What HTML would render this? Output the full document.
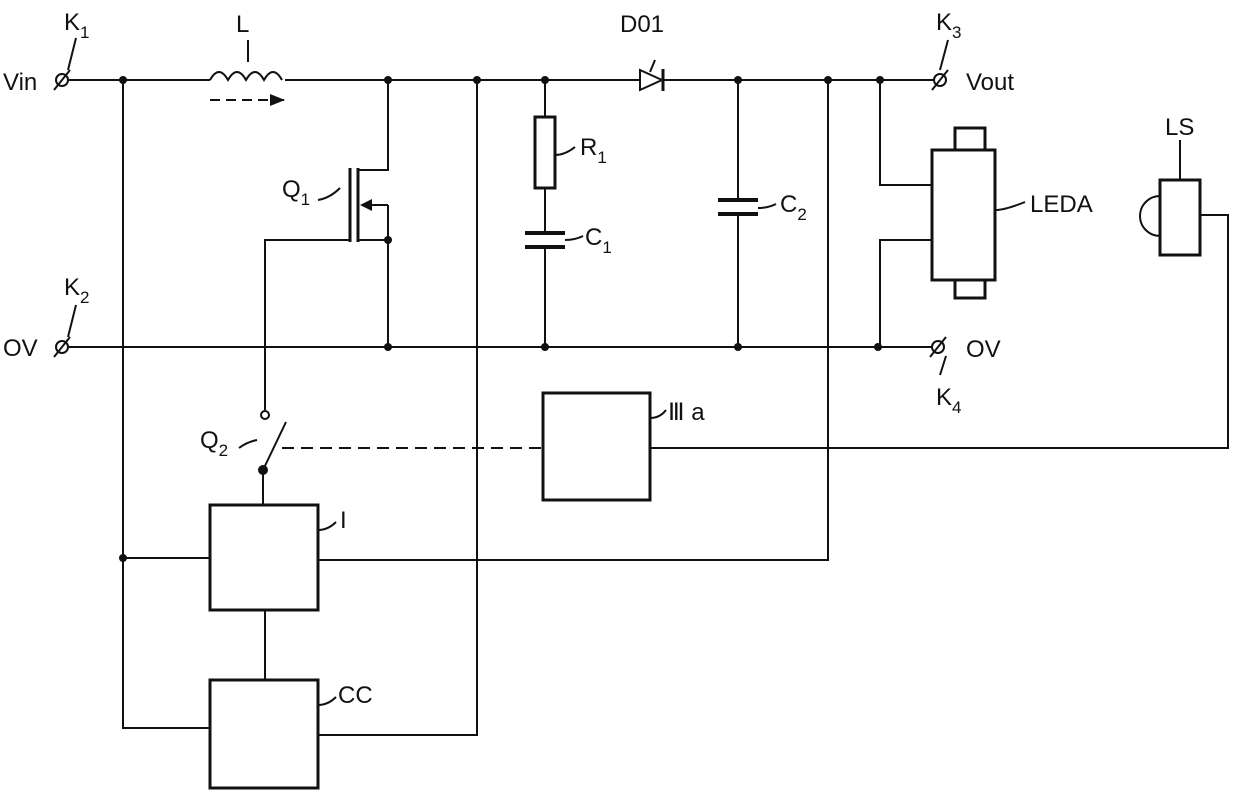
<!DOCTYPE html>
<html><head><meta charset="utf-8"><style>
html,body{margin:0;padding:0;background:#fff;}
svg{display:block}
text{font-family:"Liberation Sans",sans-serif;fill:#111;}
</style></head><body>
<svg width="1240" height="795" viewBox="0 0 1240 795" xmlns="http://www.w3.org/2000/svg">
<g stroke="#111" stroke-width="2" fill="none">
<!-- top rail -->
<path d="M68 80 H210 M285 80 H640 M664 80 H934"/>
<!-- inductor -->
<path d="M210 80 q9 -16 18 0 q9 -16 18 0 q9 -16 18 0 q9 -16 18 0"/>
<path d="M210 100 H285" stroke-dasharray="10,6"/>
<!-- bottom rail -->
<path d="M68 347 H932"/>
<!-- left vertical loop -->
<path d="M123 80 V728 H210 M123 558 H210"/>
<path d="M477 80 V735 H318"/>
<path d="M828 80 V560 H318"/>
<!-- MOSFET -->
<path d="M388 80 V170 H358 M358 240 H388 V347 M388 205 H370 M388 205 V240"/>
<path d="M358 168 V242" stroke-width="3"/>
<path d="M350 168 V242" stroke-width="3"/>
<path d="M350 240 H265 V410"/>
<!-- switch -->
<circle cx="265" cy="415" r="4" fill="#fff"/>
<path d="M263 470 L286 422"/>
<path d="M263 470 V505"/>
<path d="M282 448 H543" stroke-dasharray="12,7"/>
<!-- boxes -->
<rect x="210" y="505" width="108" height="105" stroke-width="3"/>
<rect x="210" y="680" width="108" height="108" stroke-width="3"/>
<path d="M265 610 V680"/>
<rect x="543" y="393" width="107" height="107" stroke-width="3"/>
<path d="M650 448 H1228 V215 H1200"/>
<rect x="1160" y="180" width="40" height="75" stroke-width="3"/>
<path d="M1160 196 A20 20 0 0 0 1160 236"/>
<!-- R1 C1 -->
<path d="M545 80 V117 M545 188 V233 M545 247 V347"/>
<rect x="535" y="117" width="20" height="71" stroke-width="3"/>
<path d="M525 233 H565 M525 247 H565" stroke-width="4"/>
<!-- C2 -->
<path d="M738 80 V200 M738 214 V347"/>
<path d="M718 200 H758 M718 214 H758" stroke-width="4"/>
<!-- diode -->
<path d="M640 70 L662 80 L640 90 Z" fill="#fff"/>
<path d="M663 69 V91" stroke-width="3"/>
<!-- LEDA -->
<path d="M880 80 V185 H932 M880 347 V240 H932"/>
<rect x="932" y="150" width="63" height="130" stroke-width="3"/>
<rect x="955" y="128" width="30" height="22" stroke-width="3"/>
<rect x="955" y="280" width="30" height="18" stroke-width="3"/>
<!-- terminals -->
<circle cx="62" cy="80" r="6" fill="#fff"/><path d="M54 90 L70 70"/>
<circle cx="62" cy="347" r="6" fill="#fff"/><path d="M54 357 L70 337"/>
<circle cx="940" cy="80" r="6" fill="#fff"/><path d="M932 90 L948 70"/>
<circle cx="938" cy="347" r="6" fill="#fff"/><path d="M930 357 L946 337"/>
<!-- leader lines -->
<path d="M318 200 q12 -2 22 -12 M555 155 q10 0 20 -8 M565 240 q10 0 18 -4 M758 208 q10 0 18 -4 M995 210 q10 0 30 -8 M318 530 q10 0 18 -8 M318 705 q10 0 18 -8 M650 418 q10 0 16 -8 M257 440 q-10 2 -18 8 M655 60 L650 72 M76 38 L68 70 M76 305 L68 337 M948 40 L940 70 M946 356 L940 375 M1180 140 L1180 180 M248 40 L248 62"/>
</g>
<path d="M285 100 L270 94 L270 106 Z" fill="#111"/>
<path d="M360 205 L372 199 L372 211 Z" fill="#111"/>
<g fill="#111">
<circle cx="123" cy="80" r="4"/><circle cx="388" cy="80" r="4"/><circle cx="477" cy="80" r="4"/>
<circle cx="545" cy="80" r="4"/><circle cx="738" cy="80" r="4"/><circle cx="828" cy="80" r="4"/><circle cx="880" cy="80" r="4"/>
<circle cx="388" cy="347" r="4"/><circle cx="545" cy="347" r="4"/><circle cx="738" cy="347" r="4"/><circle cx="878" cy="347" r="4"/>
<circle cx="388" cy="240" r="4"/><circle cx="123" cy="558" r="4"/><circle cx="263" cy="470" r="5"/>
</g>
<g font-size="24">
<text x="3" y="90">Vin</text>
<text x="64" y="30">K<tspan font-size="17" dy="8">1</tspan></text>
<text x="236" y="32">L</text>
<text x="620" y="32">D01</text>
<text x="936" y="30">K<tspan font-size="17" dy="8">3</tspan></text>
<text x="966" y="90">Vout</text>
<text x="1165" y="135">LS</text>
<text x="1030" y="212">LEDA</text>
<text x="282" y="197">Q<tspan font-size="17" dy="8">1</tspan></text>
<text x="580" y="155">R<tspan font-size="17" dy="8">1</tspan></text>
<text x="585" y="245">C<tspan font-size="17" dy="8">1</tspan></text>
<text x="780" y="212">C<tspan font-size="17" dy="8">2</tspan></text>
<text x="64" y="295">K<tspan font-size="17" dy="8">2</tspan></text>
<text x="3" y="356">OV</text>
<text x="966" y="357">OV</text>
<text x="936" y="405">K<tspan font-size="17" dy="8">4</tspan></text>
<text x="200" y="448">Q<tspan font-size="17" dy="8">2</tspan></text>
<text x="668" y="420">Ⅲ a</text>
<text x="340" y="528" font-family="Liberation Serif">I</text>
<text x="338" y="703">CC</text>
</g>
</svg>
</body></html>
